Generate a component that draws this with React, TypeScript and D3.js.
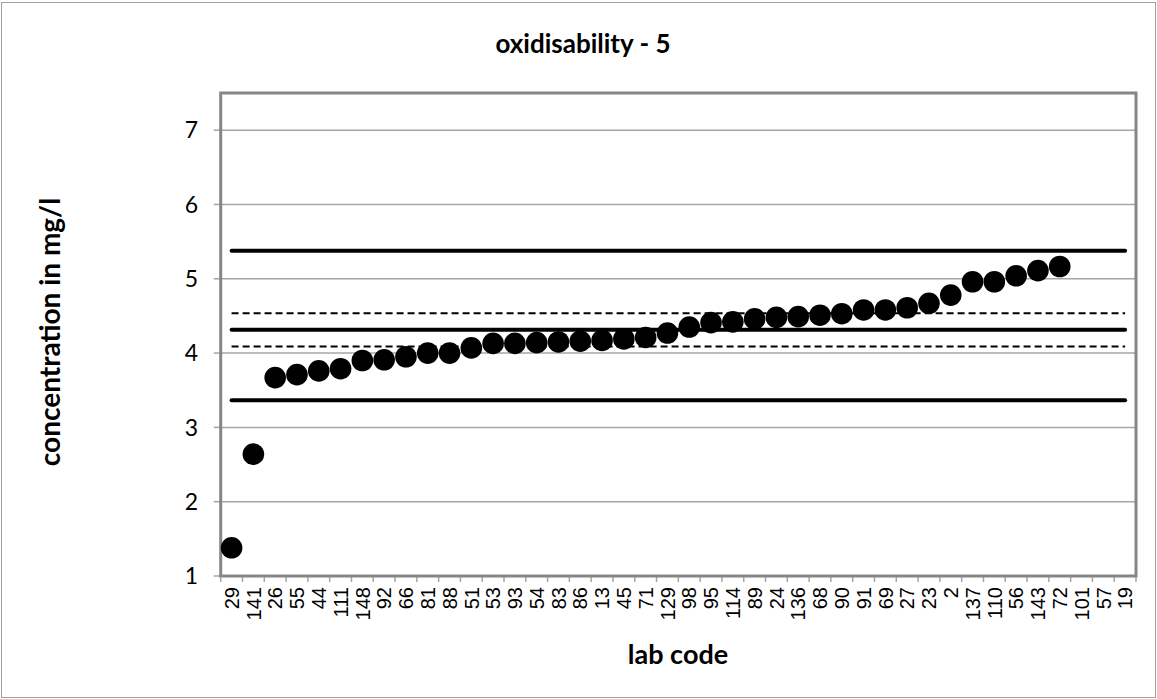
import React from "react";
import * as d3 from "d3";

const labCodes: string[] = [
  "29", "141", "26", "55", "44", "111", "148", "92", "66", "81", "88", "51", "53", "93",
  "54", "83", "86", "13", "45", "71", "129", "98", "95", "114", "89", "24", "136", "68",
  "90", "91", "69", "27", "23", "2", "137", "110", "56", "143", "72", "101", "57", "19",
];

const values: (number | null)[] = [
  1.38, 2.64, 3.67, 3.71, 3.76, 3.79, 3.9, 3.91, 3.95, 4.0, 4.0, 4.07, 4.13, 4.13,
  4.14, 4.15, 4.16, 4.17, 4.19, 4.21, 4.27, 4.35, 4.41, 4.42, 4.46, 4.48, 4.49, 4.51,
  4.53, 4.58, 4.58, 4.61, 4.67, 4.78, 4.96, 4.96, 5.04, 5.11, 5.165, null, null, null,
];

const solidLines: number[] = [5.376, 4.315, 3.366];
const dashedLines: number[] = [4.535, 4.09];
const yTicks: number[] = [1, 2, 3, 4, 5, 6, 7];
const yDomain: [number, number] = [1, 7.5];

const W = 1157;
const H = 699;
const plot = { left: 220.7, right: 1136, top: 93, bottom: 576 };

export default function App() {
  const x = d3.scaleBand<string>().domain(labCodes).range([plot.left, plot.right]).paddingInner(0).paddingOuter(0);
  const y = d3.scaleLinear().domain(yDomain).range([plot.bottom, plot.top]);
  const cx = (c: string) => (x(c) as number) + x.bandwidth() / 2;
  const x0 = cx(labCodes[0]);
  const x1 = cx(labCodes[labCodes.length - 1]);
  const ticksX = labCodes.map((c) => x(c) as number).concat([plot.right]);
  const grid = "#a6a6a6";
  const border = "#868686";

  return (
    <svg width={W} height={H} style={{ position: "absolute", left: 0, top: 0, background: "#fff" }}>
      <rect x={1.5} y={2.5} width={W - 3} height={H - 4} fill="#fff" stroke="#a0a0a0" strokeWidth={1} />
      <text x={583} y={53} textAnchor="middle" fontFamily="Lato" fontWeight="bold" fontSize={26}>
        oxidisability - 5
      </text>
      {yTicks.map((t) => (
        <g key={"g" + t}>
          {t > yDomain[0] && (
            <line x1={plot.left} x2={plot.right} y1={y(t)} y2={y(t)} stroke={grid} strokeWidth={1.5} />
          )}
          <line x1={plot.left - 7} x2={plot.left} y1={y(t)} y2={y(t)} stroke={grid} strokeWidth={1.5} />
          <text x={198} y={y(t)} dy="0.36em" textAnchor="end" fontFamily="Lato" fontSize={23}>
            {t}
          </text>
        </g>
      ))}
      {ticksX.map((tx, i) => (
        <line key={"xt" + i} x1={tx} x2={tx} y1={plot.bottom} y2={plot.bottom + 6} stroke={grid} strokeWidth={1.5} />
      ))}
      {labCodes.map((c) => (
        <text
          key={"xl" + c}
          transform={`translate(${cx(c)},${plot.bottom + 11}) rotate(-90)`}
          textAnchor="end"
          dy="0.36em"
          fontFamily="Liberation Sans"
          fontSize={20}
        >
          {c}
        </text>
      ))}
      <rect
        x={plot.left}
        y={plot.top}
        width={plot.right - plot.left}
        height={plot.bottom - plot.top}
        fill="none"
        stroke={border}
        strokeWidth={3}
      />
      {solidLines.map((v, i) => (
        <line key={"s" + i} x1={x0} x2={x1} y1={y(v)} y2={y(v)} stroke="#000" strokeWidth={4} strokeLinecap="round" />
      ))}
      {dashedLines.map((v, i) => (
        <line key={"d" + i} x1={x0} x2={x1} y1={y(v)} y2={y(v)} stroke="#000" strokeWidth={2} strokeDasharray="7,4" />
      ))}
      {labCodes.map((c, i) =>
        values[i] == null ? null : (
          <circle key={"p" + c} cx={cx(c)} cy={y(values[i] as number)} r={10.8} fill="#000" />
        )
      )}
      <text
        transform={`translate(50,332) rotate(-90)`}
        textAnchor="middle"
        dy="0.36em"
        fontFamily="Lato"
        fontWeight="bold"
        fontSize={28}
      >
        concentration in mg/l
      </text>
      <text x={678} y={664} textAnchor="middle" fontFamily="Lato" fontWeight="bold" fontSize={27}>
        lab code
      </text>
    </svg>
  );
}
